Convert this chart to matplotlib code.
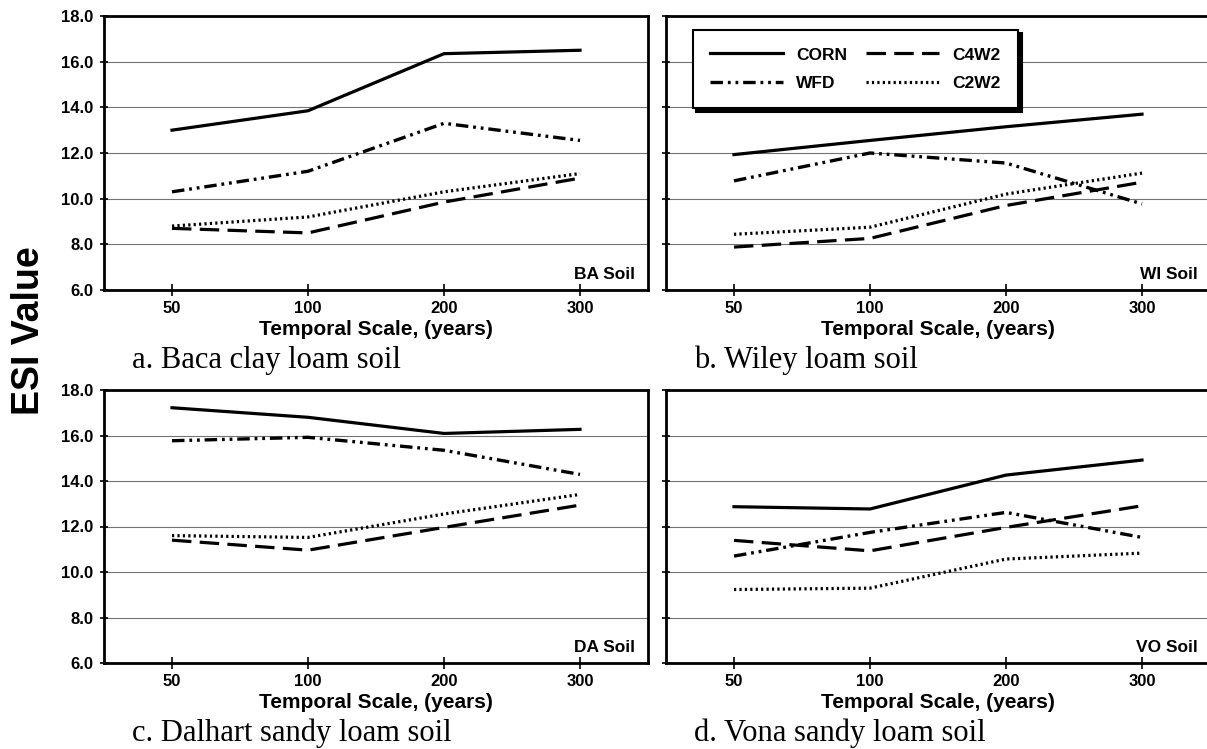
import numpy as np
import matplotlib.pyplot as plt

plt.rcParams['font.family'] = ['Liberation Sans', 'DejaVu Sans']
plt.rcParams['lines.scale_dashes'] = False

# temporal scales (categorical on the x axis)
years = ['50', '100', '200', '300']
soils = ['BA Soil', 'WI Soil', 'DA Soil', 'VO Soil']
captions = ['a. Baca clay loam soil', 'b. Wiley loam soil',
            'c. Dalhart sandy loam soil', 'd. Vona sandy loam soil']

# ESI values, one row per soil (BA, WI, DA, VO)
corn = [[13.0, 13.85, 16.35, 16.5],
        [11.93, 12.55, 13.15, 13.7],
        [17.22, 16.8, 16.09, 16.27],
        [12.87, 12.77, 14.26, 14.92]]
wfd = [[10.3, 11.2, 13.3, 12.55],
       [10.78, 12.0, 11.56, 9.77],
       [15.77, 15.92, 15.35, 14.29],
       [10.7, 11.74, 12.62, 11.52]]
c4w2 = [[8.7, 8.5, 9.85, 10.9],
        [7.88, 8.26, 9.7, 10.72],
        [11.4, 10.96, 11.96, 12.94],
        [11.39, 10.93, 11.96, 12.91]]
c2w2 = [[8.8, 9.2, 10.3, 11.1],
        [8.44, 8.75, 10.2, 11.12],
        [11.6, 11.52, 12.55, 13.41],
        [9.23, 9.29, 10.57, 10.83]]

W, H = 1207, 749
fig = plt.figure(figsize=(W/100, H/100), dpi=100)

# axes boxes in pixels: left, top, right, bottom
boxes = [(104, 16, 648, 290), (666, 16, 1210, 290),
         (104, 390, 648, 663), (666, 390, 1210, 663)]

styles = {
    'CORN': dict(ls='-', lw=2.3),
    'WFD': dict(ls=(0, (9, 3.5, 2, 3.5, 2, 3.5)), lw=2.4),
    'C4W2': dict(ls=(0, (14, 6)), lw=2.3),
    'C2W2': dict(ls=(0, (1.6, 2.3)), lw=2.3),
}

x = np.arange(len(years))
for i, (l, t, r, b) in enumerate(boxes):
    ax = fig.add_axes([l/W, 1 - b/H, (r - l)/W, (b - t)/H])
    h1, = ax.plot(x, corn[i], color='k', label='CORN', **styles['CORN'])
    h2, = ax.plot(x, wfd[i], color='k', label='WFD', **styles['WFD'])
    h3, = ax.plot(x, c4w2[i], color='k', label='C4W2', **styles['C4W2'])
    h4, = ax.plot(x, c2w2[i], color='k', label='C2W2', **styles['C2W2'])
    ax.set_xlim(-0.5, 3.5)
    ax.set_ylim(6, 18)
    ax.set_yticks(np.arange(6, 18.1, 2))
    ax.set_yticklabels([f'{v:.1f}' for v in np.arange(6, 18.1, 2)])
    ax.set_xticks(x)
    ax.set_xticklabels(years)
    ax.yaxis.grid(True, color='0.45', lw=0.8)
    ax.set_axisbelow(True)
    for s in ax.spines.values():
        s.set_linewidth(2.0)
    ax.tick_params(axis='x', direction='inout', length=8, width=1.2, pad=4,
                   labelsize=12)
    ax.tick_params(axis='y', direction='inout', length=6, width=1.2, pad=4.5,
                   labelsize=12, labelleft=(i % 2 == 0))
    for lab in ax.get_xticklabels() + ax.get_yticklabels():
        lab.set_fontweight('bold')
    ax.set_xlabel('Temporal Scale, (years)', fontsize=15, fontweight='bold',
                  labelpad=3)
    ax.text(0.977, 0.04, soils[i], transform=ax.transAxes, ha='right',
            va='baseline', fontsize=12.5, fontweight='bold')
    fig.text((l + 28)/W, 1 - (b + 78)/H, captions[i], family='Liberation Serif',
             fontsize=22, va='baseline', ha='left')
    if i == 1:
        leg = ax.legend([h1, h2, h3, h4], ['CORN', 'WFD', 'C4W2', 'C2W2'],
                        ncol=2, loc='upper left',
                        bbox_to_anchor=(693/W, 1 - 30/H),
                        bbox_transform=fig.transFigure, borderaxespad=0,
                        prop={'weight': 'bold', 'size': 12.5},
                        handlelength=4.2, handletextpad=0.75,
                        columnspacing=1.1, labelspacing=0.75, borderpad=1.0,
                        fancybox=False, framealpha=1,
                        shadow={'ox': 2.5, 'oy': -2.5, 'color': 'k', 'alpha': 1})
        leg.get_frame().set_edgecolor('k')
        leg.get_frame().set_linewidth(1.5)

fig.text(29/W, 1 - 331/H, 'ESI Value', rotation=90, fontsize=27,
         fontweight='bold', ha='center', va='center')

fig.savefig('out.png', dpi=100)
